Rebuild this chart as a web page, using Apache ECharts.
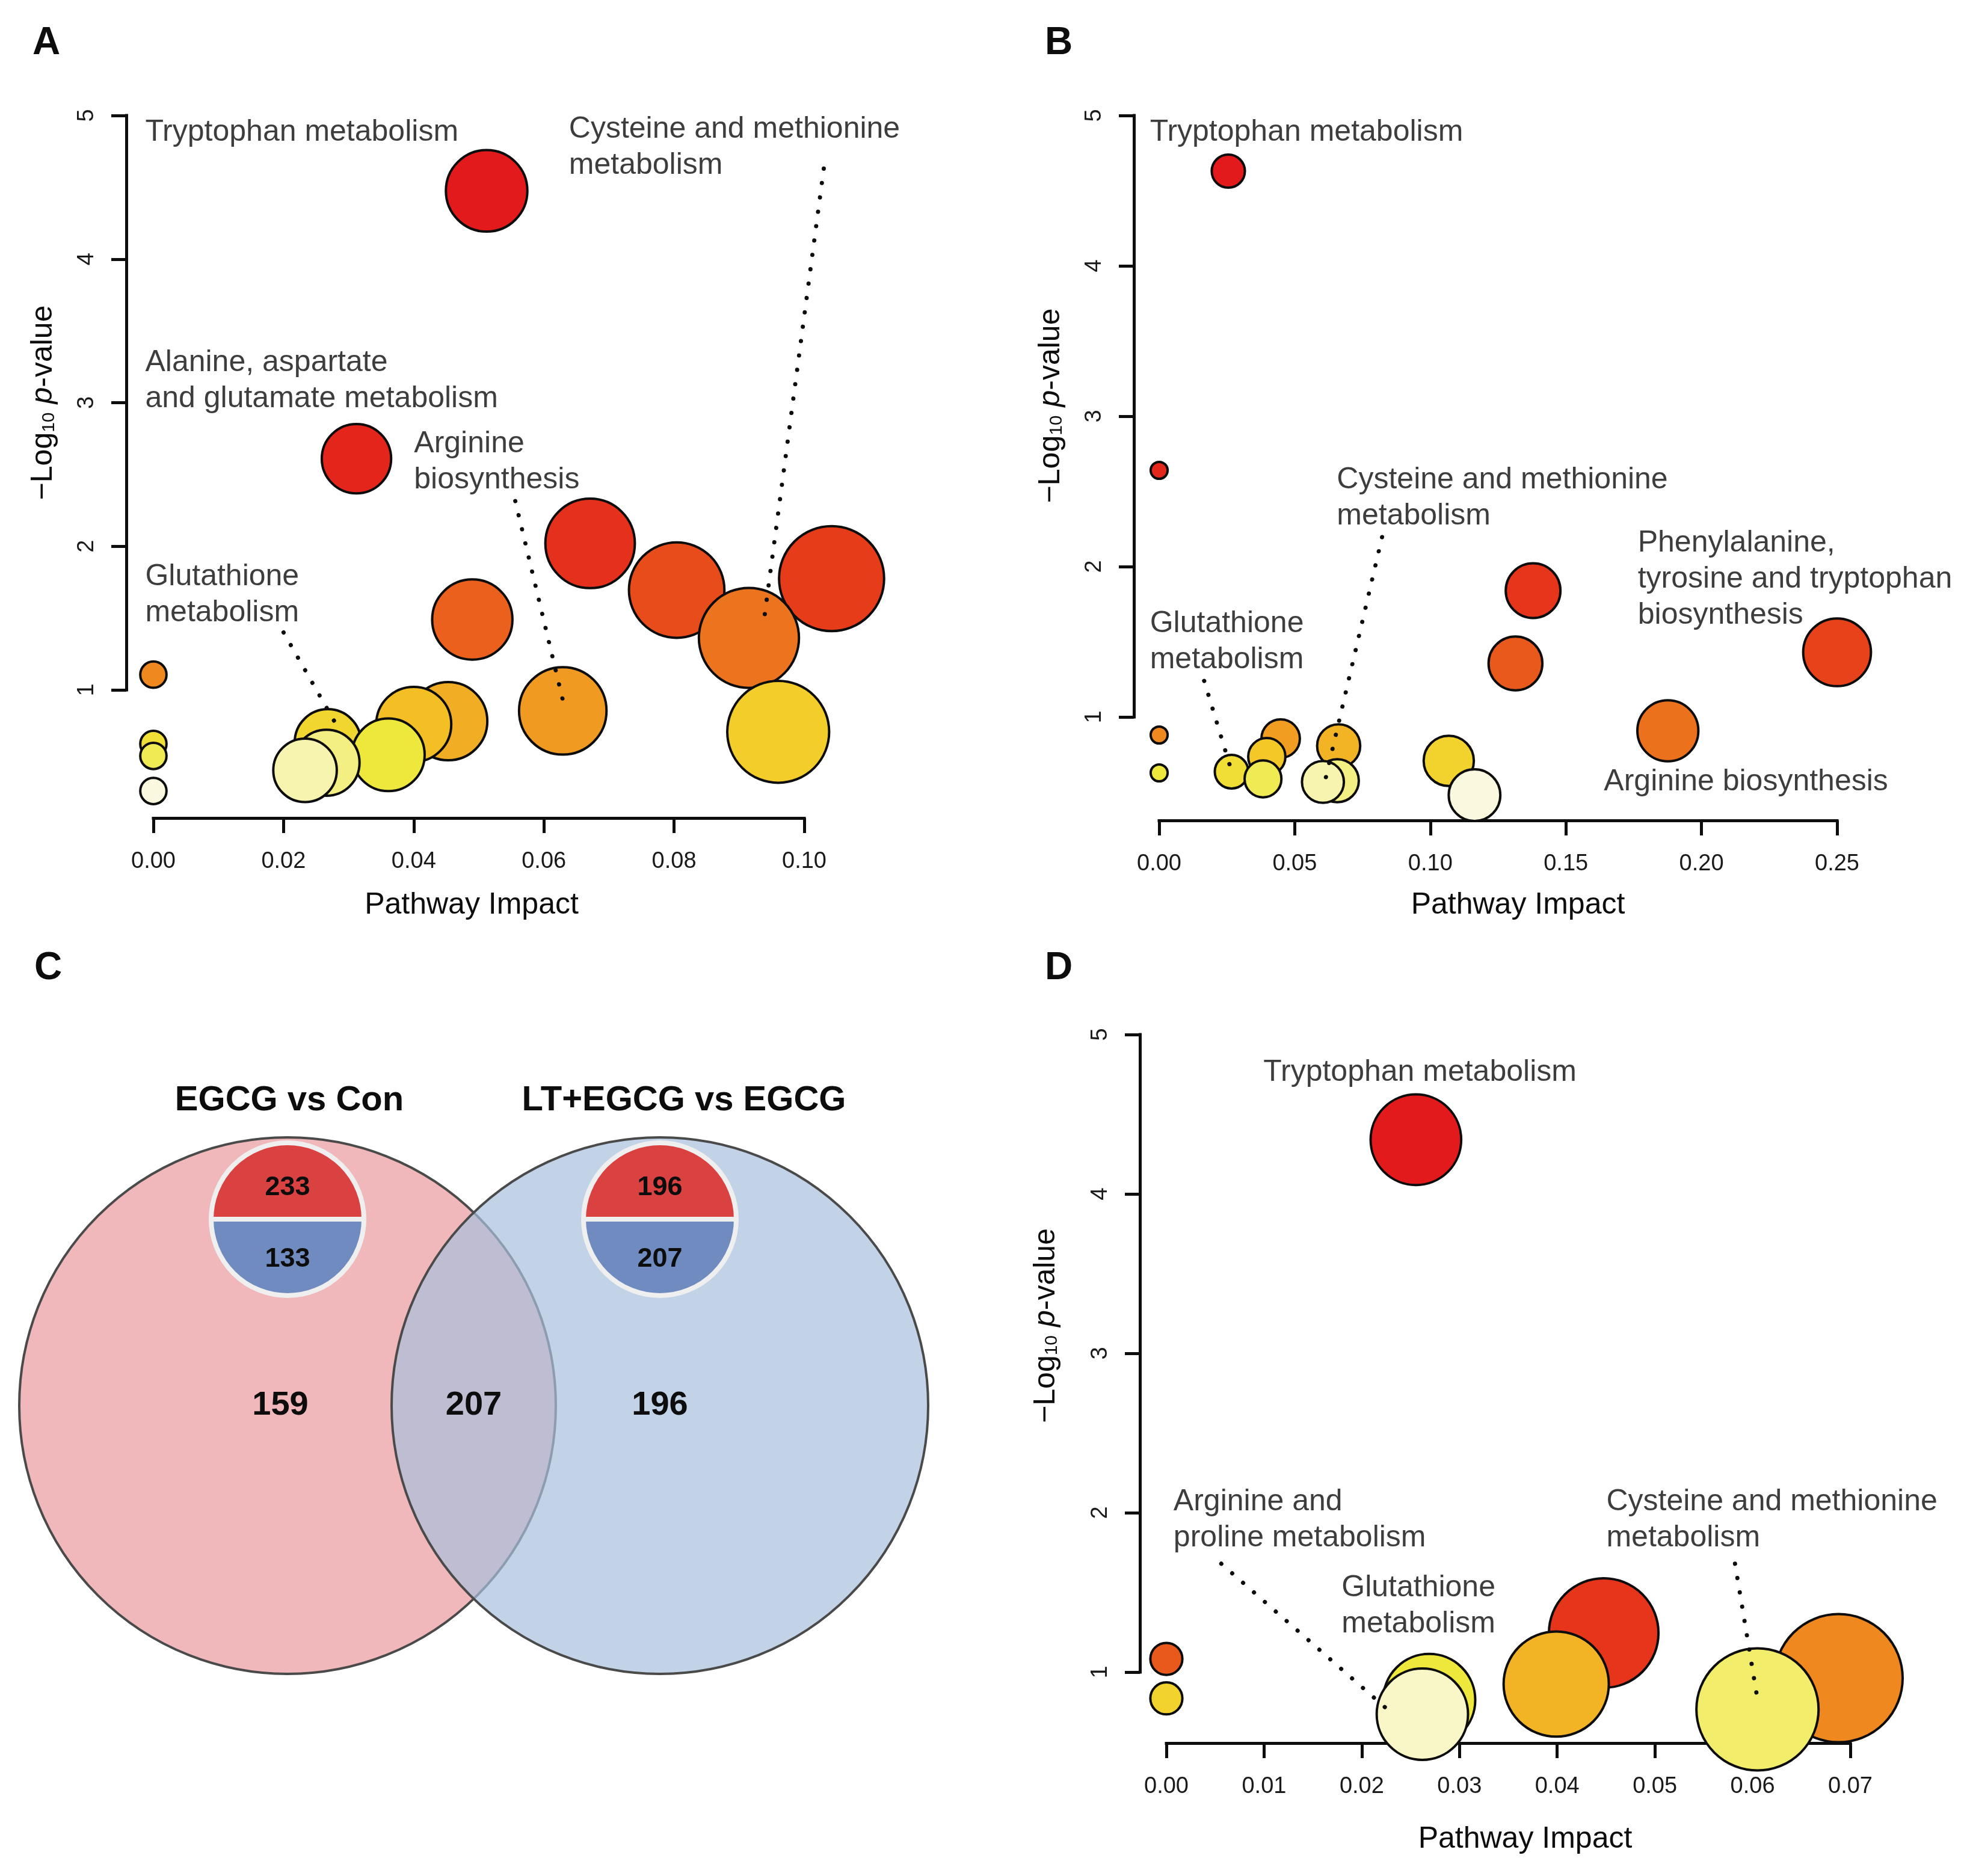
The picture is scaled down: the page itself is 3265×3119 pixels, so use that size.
<!DOCTYPE html>
<html><head><meta charset="utf-8">
<script src="https://cdn.jsdelivr.net/npm/echarts@6/dist/echarts.min.js"></script>
<style>html,body{margin:0;padding:0;background:#fff}#c{width:3265px;height:3119px}</style>
</head><body><div id="c"></div>
<script>
// ---------------- data ----------------
// Panel A
const aImpact = [0.0512,0.0312,0.0671,0.1042,0.0804,0.0490,0.0915,0,0.0629,0.0453,0.0400,0.0960,0.0268,0,0.0361,0,0.0266,0.0233,0];
const aLogP   = [4.475,2.61,2.02,1.775,1.695,1.49,1.362,1.106,0.854,0.782,0.760,0.708,0.635,0.624,0.548,0.540,0.493,0.440,0.296];
// Panel B
const bImpact = [0.0255,0,0.1379,0.25,0.1314,0.1876,0,0.0448,0.0662,0.0397,0.1068,0.0267,0,0.0383,0.0657,0.0604,0.1163];
const bLogP   = [4.63,2.64,1.84,1.43,1.356,0.908,0.88,0.856,0.808,0.736,0.708,0.636,0.628,0.588,0.576,0.568,0.48];
// Panel D
const dImpact = [0.02554,0.04476,0,0.0688,0.0399,0,0.0269,0.0605,0.0262];
const dLogP   = [4.34,1.245,1.083,0.962,0.925,0.835,0.825,0.766,0.736];
// Panel C (Venn)
const vennNames = ['EGCG vs Con','LT+EGCG vs EGCG'];
const vennOnly = [159,196];
const vennShared = 207;
const vennUp = [233,196];
const vennDown = [133,207];

// annotations (text anchor: left edge / vertical middle, in data units)
const aNotes = [
  {name:'Tryptophan metabolism', at:[-0.0013,4.883]},
  {name:'Cysteine and methionine\nmetabolism', at:[0.0638,4.778]},
  {name:'Alanine, aspartate\nand glutamate metabolism', at:[-0.0013,3.153]},
  {name:'Arginine\nbiosynthesis', at:[0.0400,2.587]},
  {name:'Glutathione\nmetabolism', at:[-0.0013,1.662]}
];
const aLeaders = [[0.0556,2.315,0.0629,0.93],[0.1030,4.63,0.0938,1.48],[0.0200,1.40,0.0282,0.75]];
const bNotes = [
  {name:'Tryptophan metabolism', at:[-0.0035,4.888]},
  {name:'Cysteine and methionine\nmetabolism', at:[0.0654,2.456]},
  {name:'Phenylalanine,\ntyrosine and tryptophan\nbiosynthesis', at:[0.1764,1.916]},
  {name:'Glutathione\nmetabolism', at:[-0.0035,1.50]},
  {name:'Arginine biosynthesis', at:[0.1639,0.568]}
];
const bLeaders = [[0.0166,1.24,0.0267,0.64],[0.0822,2.196,0.0615,0.60]];
const dNotes = [
  {name:'Tryptophan metabolism', at:[0.0099,4.762]},
  {name:'Arginine and\nproline metabolism', at:[0.0007,1.953]},
  {name:'Glutathione\nmetabolism', at:[0.0179,1.415]},
  {name:'Cysteine and methionine\nmetabolism', at:[0.0450,1.953]}
];
const dLeaders = [[0.00562,1.68,0.02318,0.736],[0.0582,1.68,0.0605,0.83]];

// ---------------- styling helpers ----------------
const FONT = "'Liberation Sans', Arial, Helvetica, sans-serif";
const INK = '#0d0d0d';
function heatParam(rank, n){
  const j = Math.floor(n/4), i = n - j;
  if (rank < i) return i > 1 ? rank/(i-1) : 0;
  const k = rank - i;
  const s = j === 1 ? 0.5 : (1 - 1/(2*j)) - k*((1 - 1/j)/(j - 1));
  return 1 + (1 - s);
}
const heatStops = [[0,[227,26,28]],[0.25,[231,66,26]],[0.5,[238,136,31]],[0.75,[244,200,38]],[1,[238,232,60]],[2,[252,251,246]]];
function heatColor(t){
  for (let q = 1; q < heatStops.length; q++){
    if (t <= heatStops[q][0] + 1e-9){
      const t0 = heatStops[q-1][0], c0 = heatStops[q-1][1], t1 = heatStops[q][0], c1 = heatStops[q][1];
      const f = (t - t0)/(t1 - t0);
      return 'rgb(' + c0.map((c,m)=>Math.round(c + (c1[m]-c)*f)).join(',') + ')';
    }
  }
  return 'rgb(252,251,246)';
}

const panels = [
  {impact:aImpact, logp:aLogP, notes:aNotes, leaders:aLeaders, left:255, top:192, width:1082, height:955,
   xMax:0.10, xInt:0.02, yOff:45, xOff:213, xNameGap:120, xNamePad:[0,24,0,0], yNameGap:113, yNamePad:[0,0,0,0]},
  {impact:bImpact, logp:bLogP, notes:bNotes, leaders:bLeaders, left:1927, top:192, width:1127, height:1000,
   xMax:0.25, xInt:0.05, yOff:42, xOff:172, xNameGap:116, xNamePad:[0,0,0,66], yNameGap:113, yNamePad:[0,0,0,35]},
  {impact:dImpact, logp:dLogP, notes:dNotes, leaders:dLeaders, left:1939, top:1720, width:1137, height:1060,
   xMax:0.07, xInt:0.01, yOff:44, xOff:118, xNameGap:135, xNamePad:[0,0,0,56], yNameGap:131, yNamePad:[0,0,0,92]}
];

const grids = [], xAxes = [], yAxes = [], series = [];
const axisLineStyle = {color:INK, width:5, cap:'square'};
panels.forEach((p, gi) => {
  grids.push({left:p.left, top:p.top, width:p.width, height:p.height, containLabel:false});
  xAxes.push({
    gridIndex:gi, type:'value', min:0, max:p.xMax, interval:p.xInt, offset:p.xOff,
    axisLine:{show:true, onZero:false, lineStyle:axisLineStyle},
    axisTick:{show:true, length:25, lineStyle:{color:INK, width:5}},
    axisLabel:{fontSize:38, color:'#1a1a1a', fontFamily:FONT, margin:54, formatter:v=>v.toFixed(2)},
    splitLine:{show:false},
    name:'Pathway Impact', nameLocation:'middle', nameGap:p.xNameGap,
    nameTextStyle:{fontSize:50, color:INK, fontFamily:FONT, padding:p.xNamePad}
  });
  yAxes.push({
    gridIndex:gi, type:'value', min:1, max:5, interval:1, offset:p.yOff,
    axisLine:{show:true, onZero:false, lineStyle:axisLineStyle},
    axisTick:{show:true, length:25, lineStyle:{color:INK, width:5}},
    axisLabel:{fontSize:38, color:'#1a1a1a', fontFamily:FONT, margin:46, rotate:90},
    splitLine:{show:false},
    name:'{n|\u2212Log}{s|10}{n| }{i|p}{n|-value}', nameLocation:'middle', nameGap:p.yNameGap, nameRotate:90,
    nameTextStyle:{fontSize:50, color:INK, fontFamily:FONT, padding:p.yNamePad,
      rich:{n:{fontSize:50, color:INK, fontFamily:FONT},
            s:{fontSize:30, color:INK, fontFamily:FONT, verticalAlign:'bottom'},
            i:{fontSize:50, color:INK, fontFamily:FONT, fontStyle:'italic'}}}
  });
  // ranks by significance (heat colours follow rank, R heat.colors)
  const n = p.logp.length;
  const order = p.logp.map((v,i)=>i).sort((a,b)=>p.logp[b]-p.logp[a]);
  const sq = p.impact.map(Math.sqrt);
  const sqMin = Math.min(...sq), sqMax = Math.max(...sq);
  const maxR = (sqMax - sqMin)/40, minR = (sqMax - sqMin)/160;
  const pxPer = p.width / p.xMax;
  const data = order.map((idx, rank) => [p.impact[idx], p.logp[idx], rank]);
  series.push({
    type:'scatter', xAxisIndex:gi, yAxisIndex:gi, clip:false, z:2, silent:true,
    data:data,
    symbolSize:function(val){
      const r = minR + (maxR - minR)*(Math.sqrt(val[0]) - sqMin)/(sqMax - sqMin);
      return 2*r*pxPer;
    },
    itemStyle:{opacity:1, borderColor:INK, borderWidth:4,
      color:function(params){ return heatColor(heatParam(params.data[2], n)); }}
  });
  series.push({
    type:'custom', xAxisIndex:gi, yAxisIndex:gi, clip:false, z:5, silent:true,
    data:p.leaders,
    renderItem:function(params, api){
      const a = api.coord([api.value(0), api.value(1)]);
      const b = api.coord([api.value(2), api.value(3)]);
      return {type:'line', shape:{x1:a[0], y1:a[1], x2:b[0], y2:b[1]},
        style:{stroke:INK, lineWidth:7, lineDash:[0.1,24], lineCap:'round', fill:null}};
    }
  });
  series.push({
    type:'scatter', xAxisIndex:gi, yAxisIndex:gi, clip:false, z:6, silent:true,
    symbol:'circle', symbolSize:1, itemStyle:{color:'rgba(255,255,255,0)'},
    data:p.notes.map(o=>({name:o.name, value:o.at})),
    label:{show:true, position:'right', distance:0, formatter:'{b}', fontSize:50, lineHeight:60,
      color:INK, fontFamily:FONT, align:'left'}
  });
});

// ---------------- Venn (panel C) ----------------
const vennCenters = [[478,2337],[1097,2337]];
const vennR = 446, innerY = 2027, innerR = 127;
const vennFill = ['#F0B8BA','rgba(168,191,221,0.7)'];
[0,1].forEach(k => {
  series.push({
    type:'pie', center:vennCenters[k], radius:[0,vennR], z:1+k, silent:true, startAngle:90,
    emphasis:{disabled:true}, labelLine:{show:false},
    data:[{name:vennNames[k], value:vennOnly[k]+vennShared}],
    itemStyle:{color:vennFill[k], borderColor:'#4a4a4a', borderWidth:4},
    label:{show:true, position:'center', formatter:()=>String(vennOnly[k]),
      fontSize:56, fontWeight:'bold', color:INK, fontFamily:FONT, padding:k===0?[0,24,0,0]:[0,0,0,0]}
  });
});
series.push({
  type:'pie', center:[(vennCenters[0][0]+vennCenters[1][0])/2, vennCenters[0][1]], radius:[0,1], z:3, silent:true,
  emphasis:{disabled:true}, labelLine:{show:false},
  data:[{name:'shared', value:vennShared}], itemStyle:{color:'rgba(0,0,0,0)'},
  label:{show:true, position:'center', formatter:()=>String(vennShared),
    fontSize:56, fontWeight:'bold', color:INK, fontFamily:FONT}
});
[0,1].forEach(k => {
  const halves = [
    {val:vennUp[k], color:'#DA4242', start:180, end:0, fmt:'{e|}\n{v|{b}}'},
    {val:vennDown[k], color:'#6F8BC0', start:0, end:-180, fmt:'{v|{b}}'}
  ];
  halves.forEach(h => {
    series.push({
      type:'pie', center:[vennCenters[k][0], innerY], radius:[0,innerR], z:4, silent:true,
      startAngle:h.start, endAngle:h.end, clockwise:true,
      emphasis:{disabled:true}, labelLine:{show:false},
      data:[{name:String(h.val), value:h.val}],
      itemStyle:{color:h.color, borderColor:'#EFEFEF', borderWidth:8},
      label:{show:true, position:'inside', formatter:h.fmt,
        rich:{e:{lineHeight:28, fontSize:10}, v:{fontSize:45, lineHeight:50, fontWeight:'bold', color:INK, fontFamily:FONT}}}
    });
  });
});

// ---------------- texts ----------------
const letterStyle = {fontSize:64, fontWeight:'bold', fill:INK, fontFamily:FONT, align:'left', verticalAlign:'middle'};
const graphic = [
  {type:'text', x:54, y:72, style:Object.assign({text:'A'}, letterStyle)},
  {type:'text', x:1737, y:72, style:Object.assign({text:'B'}, letterStyle)},
  {type:'text', x:57, y:1610, style:Object.assign({text:'C'}, letterStyle)},
  {type:'text', x:1737, y:1610, style:Object.assign({text:'D'}, letterStyle)},
  {type:'text', x:481, y:1830, style:{text:vennNames[0], fontSize:58, fontWeight:'bold', fill:INK, fontFamily:FONT, align:'center', verticalAlign:'middle'}},
  {type:'text', x:1137, y:1830, style:{text:vennNames[1], fontSize:58, fontWeight:'bold', fill:INK, fontFamily:FONT, align:'center', verticalAlign:'middle'}}
];

const chart = echarts.init(document.getElementById('c'));
chart.setOption({
  animation:false, backgroundColor:'#ffffff',
  textStyle:{fontFamily:FONT},
  grid:grids, xAxis:xAxes, yAxis:yAxes, series:series, graphic:graphic
});
</script></body></html>
